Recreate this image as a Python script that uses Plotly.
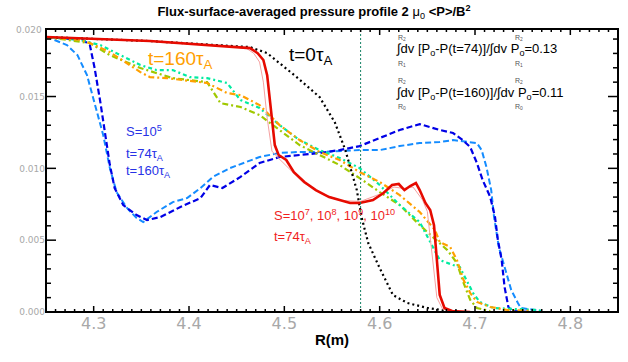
import plotly.graph_objects as go

# ---------------- data ----------------
r_t0 = [4.250, 4.359, 4.464, 4.482, 4.513, 4.537, 4.553, 4.564, 4.576, 4.581, 4.588, 4.600, 4.614, 4.629, 4.650, 4.671, 4.684]
p_t0 = [0.01914, 0.01886, 0.01844, 0.01802, 0.01635, 0.01496, 0.0132, 0.01127, 0.00849, 0.00661, 0.0048, 0.00306, 0.00118, 0.00063, 0.00028, 0.00007, 0.0]

r_s7_74 = [4.250, 4.359, 4.464, 4.472, 4.478, 4.482, 4.486, 4.490, 4.494, 4.502, 4.510, 4.521, 4.533, 4.547, 4.558, 4.569, 4.579, 4.593, 4.604, 4.613, 4.620, 4.626, 4.632, 4.638, 4.642, 4.648, 4.653, 4.657, 4.660, 4.663, 4.668, 4.676, 4.695]
p_s7_74 = [0.01914, 0.01886, 0.01837, 0.01802, 0.01754, 0.01649, 0.01406, 0.01162, 0.01093, 0.01058, 0.00974, 0.00905, 0.00849, 0.00800, 0.00779, 0.00759, 0.00759, 0.00779, 0.00828, 0.00884, 0.00891, 0.00849, 0.00877, 0.00898, 0.00849, 0.00759, 0.0071, 0.00605, 0.00362, 0.00118, 0.00028, 0.00007, 0.0]

r_s8_74 = [4.250, 4.359, 4.460, 4.468, 4.474, 4.478, 4.482, 4.487, 4.494, 4.505, 4.520, 4.540, 4.560, 4.580, 4.600, 4.615, 4.625, 4.635, 4.645, 4.650, 4.653, 4.656, 4.660, 4.666, 4.680]
p_s8_74 = [0.01914, 0.01886, 0.01837, 0.01800, 0.01740, 0.01600, 0.01350, 0.01120, 0.01070, 0.01000, 0.00900, 0.00820, 0.00775, 0.00770, 0.00820, 0.00870, 0.00860, 0.00870, 0.00780, 0.00700, 0.00520, 0.00300, 0.00100, 0.00020, 0.0]

r_s5_74 = [4.250, 4.289, 4.296, 4.301, 4.307, 4.312, 4.317, 4.322, 4.331, 4.345, 4.356, 4.370, 4.391, 4.412, 4.422, 4.435, 4.446, 4.454, 4.474, 4.495, 4.516, 4.537, 4.558, 4.579, 4.600, 4.621, 4.642, 4.663, 4.677, 4.687, 4.695, 4.702, 4.708, 4.716, 4.721, 4.724, 4.728, 4.731, 4.735, 4.739, 4.758]
p_s5_74 = [0.01914, 0.01893, 0.01858, 0.01698, 0.01461, 0.01232, 0.01023, 0.00863, 0.00744, 0.00675, 0.0064, 0.00661, 0.00731, 0.00793, 0.00884, 0.00863, 0.00905, 0.0094, 0.01037, 0.01079, 0.01093, 0.01107, 0.01127, 0.01155, 0.01211, 0.01267, 0.01308, 0.01267, 0.01246, 0.01197, 0.01148, 0.01037, 0.00919, 0.008, 0.00661, 0.00501, 0.00362, 0.00174, 0.00035, 0.00007, 0.0]

r_s5_160 = [4.250, 4.254, 4.272, 4.283, 4.293, 4.301, 4.310, 4.317, 4.324, 4.335, 4.345, 4.352, 4.366, 4.383, 4.398, 4.412, 4.425, 4.443, 4.454, 4.474, 4.495, 4.516, 4.537, 4.558, 4.579, 4.600, 4.621, 4.642, 4.663, 4.677, 4.691, 4.702, 4.707, 4.712, 4.717, 4.720, 4.725, 4.732, 4.738, 4.745, 4.748, 4.763, 4.770]
p_s5_160 = [0.01914, 0.01907, 0.01858, 0.01788, 0.01649, 0.01461, 0.01232, 0.01002, 0.00835, 0.00724, 0.00654, 0.00626, 0.00696, 0.00765, 0.00793, 0.00863, 0.00940, 0.01002, 0.01030, 0.01079, 0.01107, 0.01114, 0.01114, 0.01120, 0.01127, 0.01127, 0.01155, 0.01176, 0.01183, 0.01197, 0.01183, 0.01176, 0.01127, 0.01009, 0.00849, 0.00661, 0.00452, 0.00292, 0.00153, 0.00063, 0.00028, 0.00014, 0.00007]

r_or_160 = [4.250, 4.286, 4.296, 4.317, 4.333, 4.349, 4.359, 4.377, 4.394, 4.419, 4.440, 4.454, 4.474, 4.495, 4.516, 4.537, 4.558, 4.579, 4.600, 4.621, 4.642, 4.658, 4.663, 4.674, 4.681, 4.688, 4.695, 4.702, 4.716, 4.734, 4.758]
p_or_160 = [0.01914, 0.01893, 0.01872, 0.01809, 0.01740, 0.01670, 0.01635, 0.01628, 0.01614, 0.01594, 0.01524, 0.0151, 0.0144, 0.01301, 0.01197, 0.01114, 0.01058, 0.00974, 0.00905, 0.00814, 0.00696, 0.00571, 0.00487, 0.00452, 0.00362, 0.00223, 0.00132, 0.00070, 0.00035, 0.00014, 0.00007]

r_gr_160 = [4.250, 4.286, 4.307, 4.328, 4.349, 4.366, 4.383, 4.401, 4.419, 4.440, 4.454, 4.474, 4.495, 4.516, 4.537, 4.558, 4.579, 4.600, 4.621, 4.642, 4.663, 4.677, 4.684, 4.691, 4.698, 4.705, 4.719, 4.765, 4.770]
p_gr_160 = [0.01914, 0.01893, 0.01858, 0.01788, 0.01719, 0.01684, 0.01684, 0.01635, 0.01628, 0.01594, 0.01475, 0.0142, 0.01301, 0.01197, 0.01127, 0.01072, 0.01002, 0.00884, 0.00745, 0.00626, 0.00362, 0.00327, 0.00313, 0.00223, 0.00132, 0.0007, 0.00028, 0.00014, 0.00007]

r_ol_160 = [4.250, 4.296, 4.317, 4.349, 4.383, 4.419, 4.433, 4.454, 4.474, 4.495, 4.516, 4.537, 4.558, 4.579, 4.600, 4.621, 4.642, 4.671, 4.681, 4.688, 4.695, 4.702, 4.716]
p_ol_160 = [0.01914, 0.01872, 0.01788, 0.01698, 0.01628, 0.01600, 0.01454, 0.01427, 0.01371, 0.01267, 0.01162, 0.01093, 0.01023, 0.00932, 0.00835, 0.00745, 0.00605, 0.00431, 0.00341, 0.00202, 0.00084, 0.00028, 0.00007]

r_mark = 4.58
x_ticks = [4.3, 4.4, 4.5, 4.6, 4.7, 4.8]
y_ticks = [0.0, 0.005, 0.010, 0.015]
x_range = [4.25, 4.85]
y_range = [0, 0.0197]

# ---------------- figure ----------------
fig = go.Figure()

def add(x, y, color, width, dash):
    fig.add_trace(go.Scatter(x=x, y=y, mode="lines", line=dict(color=color, width=width, dash=dash),
                             showlegend=False, hoverinfo="skip"))

add(r_s5_160, p_s5_160, "rgb(20,140,255)", 2, "6px,3px")
add(r_s5_74, p_s5_74, "rgb(0,0,230)", 2.2, "6px,3px")
add(r_ol_160, p_ol_160, "rgb(160,200,0)", 2.2, "6px,3px,2px,3px")
add(r_gr_160, p_gr_160, "rgb(0,235,160)", 2.2, "4px,3px,2px,3px")
add(r_or_160, p_or_160, "rgb(255,160,0)", 2.2, "6px,3px,2px,3px")
add(r_t0, p_t0, "black", 2.2, "2px,3px")
add(r_s8_74, p_s8_74, "rgb(245,160,160)", 1, "solid")
add(r_s7_74, p_s7_74, "rgb(230,10,0)", 2.6, "solid")

fig.add_shape(type="line", x0=r_mark, x1=r_mark, y0=0, y1=1, yref="paper", xref="x",
              line=dict(color="rgb(20,130,100)", width=1, dash="2px,2px"))

L, W, T, H = 46, 572, 29, 283

# frame and tick marks drawn as shapes (axis decoration)
shapes = [dict(type="rect", xref="paper", yref="paper", x0=0, x1=1, y0=0, y1=1,
               line=dict(color="black", width=2), layer="above")]
def xtick(v, ln):
    for y0, y1 in [(0, ln / H), (1, 1 - ln / H)]:
        shapes.append(dict(type="line", xref="x", yref="paper", x0=v, x1=v, y0=y0, y1=y1,
                           line=dict(color="black", width=1.5), layer="above"))
def ytick(v, ln):
    for x0, x1 in [(0, ln / W), (1, 1 - ln / W)]:
        shapes.append(dict(type="line", xref="paper", yref="y", x0=x0, x1=x1, y0=v, y1=v,
                           line=dict(color="black", width=1.5), layer="above"))
for i in range(426, 485):
    v = round(i * 0.01, 2)
    xtick(v, 6 if i % 10 == 0 else 3)
for i in range(1, 20):
    v = round(i * 0.001, 3)
    ytick(v, 10 if i % 5 == 0 else 5)

fig.update_xaxes(range=x_range, tickmode="array", tickvals=x_ticks, ticktext=[f"{v:.1f}" for v in x_ticks],
                 ticks="", showline=False, showgrid=False, zeroline=False,
                 tickfont=dict(family="DejaVu Sans", size=16, color="#a8a8a8"),
                 title=dict(text="<b>R(m)</b>", font=dict(family="Liberation Sans", size=15, color="black"), standoff=2))
fig.update_yaxes(range=y_range, tickmode="array", tickvals=y_ticks, ticktext=["0.000", "0.005", "0.010", "0.015"],
                 ticks="", showline=False, showgrid=False, zeroline=False,
                 tickfont=dict(family="DejaVu Sans", size=9, color="#a8a8a8"))

fig.update_layout(
    width=628, height=362,
    margin=dict(l=L, r=628 - L - W, t=T, b=362 - T - H, autoexpand=False),
    paper_bgcolor="white", plot_bgcolor="white",
    title=dict(text="<b>Flux-surface-averaged pressure profile 2 </b>μ<sub>0</sub><b> &lt;P&gt;/B<sup>2</sup></b>",
               x=0.5, xanchor="center", y=0.967, yanchor="middle",
               font=dict(family="Liberation Sans", size=13, color="black")),
)
for s in shapes:
    fig.add_shape(**s)

def px(xp, yp):
    return (xp - L) / W, (T + H - yp) / H

anns = []
def ann(text, xp, yp, size, color, xanchor="left", family="Liberation Sans"):
    xx, yy = px(xp, yp)
    anns.append(dict(text=text, x=xx, y=yy, xref="paper", yref="paper", showarrow=False,
                     xanchor=xanchor, yanchor="middle", font=dict(family=family, size=size, color=color)))

ann("0.020", 44, 30, 9, "#a8a8a8", xanchor="right", family="DejaVu Sans")
ann("t=0τ<sub>A</sub>", 287, 56, 19, "black")
ann("t=160τ<sub>A</sub>", 146, 60, 19, "rgb(255,160,0)")
ann("S=10<sup>5</sup>", 124, 131, 13, "rgb(40,50,230)")
ann("t=74τ<sub>A</sub>", 124, 154, 13, "rgb(40,50,230)")
ann("t=160τ<sub>A</sub>", 124, 171, 13, "rgb(40,50,230)")
ann("S=10<sup>7</sup>, 10<sup>8</sup>, 10<sup>9</sup>, 10<sup>10</sup>", 272, 215, 13, "rgb(240,30,30)")
ann("t=74τ<sub>A</sub>", 272, 237, 13, "rgb(240,30,30)")
ann("∫dv [P<sub>o</sub>-P(t=74)]/∫dv P<sub>o</sub>=0.13", 394, 50, 13, "black")
ann("∫dv [P<sub>o</sub>-P(t=160)]/∫dv P<sub>o</sub>=0.11", 394, 93, 13, "black")
for (xa, ya, t) in [(396, 38, "R<sub>2</sub>"), (396, 64, "R<sub>1</sub>"), (513, 38, "R<sub>2</sub>"), (513, 64, "R<sub>1</sub>"),
                    (396, 81, "R<sub>2</sub>"), (396, 107, "R<sub>0</sub>"), (513, 81, "R<sub>2</sub>"), (513, 107, "R<sub>0</sub>")]:
    ann(t, xa, ya, 7, "#555555")

fig.update_layout(annotations=anns)
fig.write_html("out.html")
